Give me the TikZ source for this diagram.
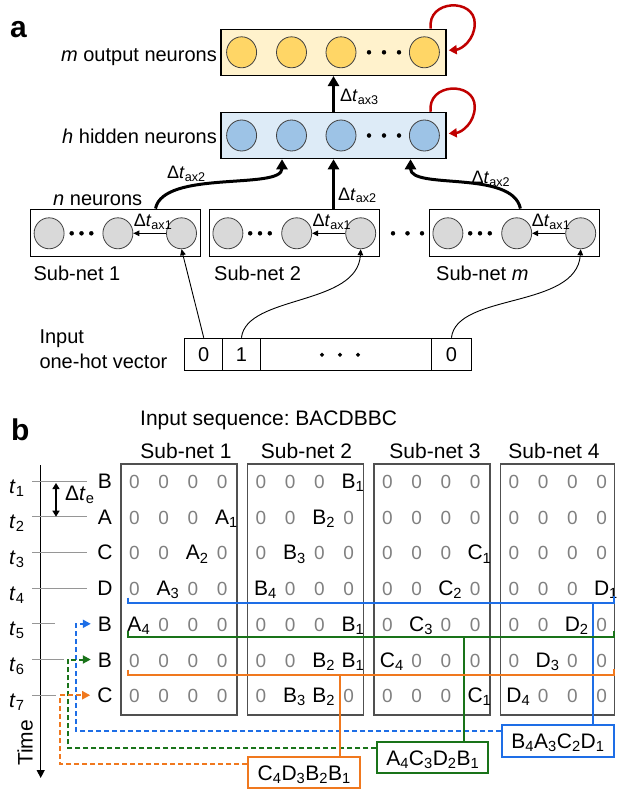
\documentclass[tikz,border=0pt]{standalone}
\usepackage{fontspec}
\setmainfont{Liberation Sans}
\usetikzlibrary{arrows.meta,shapes.geometric}

\definecolor{outfill}{RGB}{255,242,204}
\definecolor{outneuron}{RGB}{255,214,102}
\definecolor{hidfill}{RGB}{221,235,247}
\definecolor{hidneuron}{RGB}{157,195,230}
\definecolor{subneuron}{RGB}{217,217,217}
\definecolor{neuronline}{RGB}{64,64,64}
\definecolor{loopred}{RGB}{192,0,0}
\definecolor{seqblue}{RGB}{30,110,230}
\definecolor{seqgreen}{RGB}{25,115,25}
\definecolor{seqorange}{RGB}{240,120,30}
\definecolor{zerogray}{RGB}{128,128,128}
\definecolor{boxgray}{RGB}{80,80,80}
\definecolor{tickgray}{RGB}{150,150,150}

\newcommand{\zr}{{\fontsize{19}{19}\selectfont\color{zerogray}0}}
\newcommand{\lettr}[2]{#1\rlap{\textsubscript{#2}}}
% one row of a sub-net matrix: box, row, four entries
\newcommand{\matrow}[6]{%
  \node[mcell] (m#1r#2a) at ({134.5+126.5*(#1-1)},{481+35.7*(#2-1)}) {#3};
  \node[mcell] (m#1r#2b) at ({163.7+126.5*(#1-1)},{481+35.7*(#2-1)}) {#4};
  \node[mcell] (m#1r#2c) at ({192.9+126.5*(#1-1)},{481+35.7*(#2-1)}) {#5};
  \node[mcell] (m#1r#2d) at ({222.1+126.5*(#1-1)},{481+35.7*(#2-1)}) {#6};
}

\begin{document}
\begin{tikzpicture}[x=1pt,y=-1pt,
    lab/.style={font=\fontsize{20}{22}\selectfont, inner sep=0pt},
    dlab/.style={font=\fontsize{18}{20}\selectfont, inner sep=0pt},
    blab/.style={font=\fontsize{21}{23}\selectfont, inner sep=0pt},
    panel/.style={font=\fontsize{30}{30}\selectfont\bfseries, inner sep=0pt},
    layerbox/.style={draw=black, line width=1.5pt, minimum width=225pt, minimum height=46pt, inner sep=0pt},
    subbox/.style={draw=black, line width=1.3pt, minimum width=170pt, minimum height=47pt, inner sep=0pt},
    neuron/.style={ellipse, draw=neuronline, line width=0.8pt, minimum width=30pt, minimum height=31pt, inner sep=0pt},
    vcell/.style={draw=black, line width=1.2pt, minimum height=32.4pt, inner sep=0pt, font=\fontsize{20}{22}\selectfont},
    axon/.style={line width=3pt, -{Triangle[length=10pt,width=11pt]}},
    thinarr/.style={line width=0.9pt, -{Triangle[length=6pt,width=5.5pt]}},
    selfloop/.style={loopred, line width=2.5pt, -{Triangle[length=8pt,width=9pt]}},
    matbox/.style={draw=boxgray, line width=1.3pt},
    mcell/.style={font=\fontsize{21}{21}\selectfont, inner sep=0pt, text height=15pt, text depth=0pt},
    tline/.style={tickgray, line width=1pt},
    seqline/.style={line width=2pt},
    seqdash/.style={line width=2pt, dash pattern=on 5pt off 3pt, -{Triangle[length=8pt,width=8pt]}},
    seqbox/.style={draw, line width=2pt, minimum width=112pt, minimum height=32pt, inner sep=0pt,
      text=black, font=\fontsize{21}{21}\selectfont, text height=15pt, text depth=0pt}]
    \useasboundingbox (0,0) rectangle (616,789);

    % panel a
    \node[panel, anchor=base west] (pa) at (10,38) {a};

    \node[layerbox, fill=outfill] (outl) at (333.5,52.3) {};
    \node[neuron, fill=outneuron] (o1) at (241.6,52.3) {};
    \node[neuron, fill=outneuron] (o2) at (291.5,52.3) {};
    \node[neuron, fill=outneuron] (o3) at (341,52.3) {};
    \node[neuron, fill=outneuron] (o4) at (424.4,52.3) {};
    \filldraw (369,52.3) circle (2pt);
    \filldraw (384,52.3) circle (2pt);
    \filldraw (399,52.3) circle (2pt);
    \node[lab, anchor=base east] (outtxt) at (217,62) {\textit{m} output neurons};
    \draw[selfloop] (outl.north east) ++(-16,0) .. controls +(-4,-29) and +(0,-26) .. ++(44,-5)
        .. controls +(0,16) and +(13,-1) .. ([xshift=2pt,yshift=2pt]outl.east);

    \node[layerbox, fill=hidfill] (hidl) at (333.5,135.5) {};
    \node[neuron, fill=hidneuron] (h1) at (241.6,135.5) {};
    \node[neuron, fill=hidneuron] (h2) at (291.5,135.5) {};
    \node[neuron, fill=hidneuron] (h3) at (341,135.5) {};
    \node[neuron, fill=hidneuron] (h4) at (424.4,135.5) {};
    \filldraw (369,135.5) circle (2pt);
    \filldraw (384,135.5) circle (2pt);
    \filldraw (399,135.5) circle (2pt);
    \node[lab, anchor=base east] (hidtxt) at (217,143) {\textit{h} hidden neurons};
    \draw[selfloop] (hidl.north east) ++(-16,0) .. controls +(-4,-29) and +(0,-26) .. ++(44,-5)
        .. controls +(0,16) and +(13,-1) .. ([xshift=2pt,yshift=2pt]hidl.east);

    \draw[axon] (hidl.north) -- (outl.south);
    \node[dlab, anchor=base west] (tax3) at (340,101.7) {Δ\textit{t}\textsubscript{ax3}};

    % sub-nets
    \node[subbox] (sub1) at (115.5,232.7) {};
    \node[subbox] (sub2) at (294.3,232.7) {};
    \node[subbox] (sub3) at (514.4,232.7) {};
    \node[neuron, fill=subneuron] (s1a) at (49.1,233.3) {};
    \node[neuron, fill=subneuron] (s1b) at (117.9,233.3) {};
    \node[neuron, fill=subneuron] (s1c) at (181.5,233.3) {};
    \node[neuron, fill=subneuron] (s2a) at (227.9,233.3) {};
    \node[neuron, fill=subneuron] (s2b) at (296.7,233.3) {};
    \node[neuron, fill=subneuron] (s2c) at (360.7,233.3) {};
    \node[neuron, fill=subneuron] (s3a) at (447.9,233.3) {};
    \node[neuron, fill=subneuron] (s3b) at (516.7,233.3) {};
    \node[neuron, fill=subneuron] (s3c) at (580.7,233.3) {};
    \filldraw (71.7,233.3) circle (2pt);
    \filldraw (81.5,233.3) circle (2pt);
    \filldraw (91.3,233.3) circle (2pt);
    \filldraw (250.2,233.3) circle (2pt);
    \filldraw (260,233.3) circle (2pt);
    \filldraw (269.8,233.3) circle (2pt);
    \filldraw (470.2,233.3) circle (2pt);
    \filldraw (480,233.3) circle (2pt);
    \filldraw (489.8,233.3) circle (2pt);
    \filldraw (393,233.3) circle (2pt);
    \filldraw (407.5,233.3) circle (2pt);
    \filldraw (422,233.3) circle (2pt);
    \draw[thinarr] (s1c) -- (s1b);
    \draw[thinarr] (s2c) -- (s2b);
    \draw[thinarr] (s3c) -- (s3b);
    \node[dlab, anchor=base west] (tax1a) at (133.6,226.7) {Δ\textit{t}\textsubscript{ax1}};
    \node[dlab, anchor=base west] (tax1b) at (312.4,226.7) {Δ\textit{t}\textsubscript{ax1}};
    \node[dlab, anchor=base west] (tax1c) at (531.6,226.7) {Δ\textit{t}\textsubscript{ax1}};
    \node[lab, anchor=base west] (ntxt) at (53,205) {\textit{n} neurons};
    \node[lab, anchor=base west] (sub1txt) at (33.4,280) {Sub-net 1};
    \node[lab, anchor=base west] (sub2txt) at (214,280) {Sub-net 2};
    \node[lab, anchor=base west] (sub3txt) at (436,280) {Sub-net \textit{m}};

    \draw[axon] ([xshift=40pt]sub1.north) .. controls +(8,-39) and +(0,31) .. ([xshift=-51.5pt]hidl.south);
    \draw[axon] (hidl.south |- sub2.north) -- (hidl.south);
    \draw[axon] ([xshift=6pt]sub3.north) .. controls +(-8,-39) and +(0,31) .. ([xshift=77pt]hidl.south);
    \node[dlab, anchor=base west] (tax2a) at (167,178.3) {Δ\textit{t}\textsubscript{ax2}};
    \node[dlab, anchor=base west] (tax2b) at (338,200) {Δ\textit{t}\textsubscript{ax2}};
    \node[dlab, anchor=base west] (tax2c) at (471.5,183.3) {Δ\textit{t}\textsubscript{ax2}};

    % one-hot input
    \node[vcell, minimum width=38.1pt] (in0) at (203.75,354.5) {0};
    \node[vcell, minimum width=37.3pt] (in1) at (241.45,354.5) {1};
    \node[vcell, minimum width=171.3pt] (indots) at (345.75,354.5) {};
    \node[vcell, minimum width=40.1pt] (inm) at (451.45,354.5) {0};
    \filldraw (322,354.7) circle (1.9pt);
    \filldraw (340,354.7) circle (1.9pt);
    \filldraw (358,354.7) circle (1.9pt);
    \node[lab, anchor=base west] (intxt) at (39.3,343.3) {Input};
    \node[lab, anchor=base west] (ohtxt) at (39.3,368.3) {one-hot vector};
    \draw[thinarr] (in0.north) -- (s1c.south);
    \draw[thinarr] (in1.north) .. controls +(5,-43) and +(-3,57) .. (s2c.south);
    \draw[thinarr] (inm.north) .. controls +(5,-45) and +(-4,60) .. (s3c.south);

    % panel b
    \node[panel, anchor=base west] (pb) at (11,440) {b};
    \node[blab, anchor=base west] (seqtxt) at (140,425) {Input sequence:\ BACDBBC};
    \node[blab, anchor=base] (m1txt) at (186,458.3) {Sub-net 1};
    \node[blab, anchor=base] (m2txt) at (306.5,458.3) {Sub-net 2};
    \node[blab, anchor=base] (m3txt) at (435,458.3) {Sub-net 3};
    \node[blab, anchor=base] (m4txt) at (554,458.3) {Sub-net 4};

    \draw[matbox] (121,464) rectangle (237,715);
    \draw[matbox] (247.5,464) rectangle (363.5,715);
    \draw[matbox] (374,464) rectangle (490,715);
    \draw[matbox] (500.5,464) rectangle (614.8,715);

    % time axis
    \draw[line width=1.3pt, -{Triangle[length=8pt,width=8pt]}] (40.7,465) -- (40.7,778);
    \node[blab, rotate=90] (timetxt) at (25,743) {Time};
    \draw[tline] (32,481) -- (87,481);
    \draw[tline] (32,516.7) -- (87,516.7);
    \draw[tline] (32,552.4) -- (87,552.4);
    \draw[tline] (32,588.1) -- (87,588.1);
    \draw[tline] (32,623.8) -- (55,623.8);
    \draw[tline] (32,659.5) -- (64,659.5);
    \draw[tline] (32,695.2) -- (56,695.2);
    \node[blab, anchor=base west] (t1) at (9,493) {\textit{t}\textsubscript{1}};
    \node[blab, anchor=base west] (t2) at (9,528.7) {\textit{t}\textsubscript{2}};
    \node[blab, anchor=base west] (t3) at (9,564.4) {\textit{t}\textsubscript{3}};
    \node[blab, anchor=base west] (t4) at (9,600.1) {\textit{t}\textsubscript{4}};
    \node[blab, anchor=base west] (t5) at (9,635.8) {\textit{t}\textsubscript{5}};
    \node[blab, anchor=base west] (t6) at (9,671.5) {\textit{t}\textsubscript{6}};
    \node[blab, anchor=base west] (t7) at (9,707.2) {\textit{t}\textsubscript{7}};
    \draw[line width=1.3pt, {Triangle[length=6pt,width=7pt]}-{Triangle[length=6pt,width=7pt]}] (56,483) -- (56,516.7);
    \node[blab, anchor=base west] (dte) at (65,500) {Δ\textit{t}\textsubscript{e}};

    % input letters
    \node[mcell] (rl1) at (105,481) {B};
    \node[mcell] (rl2) at (105,516.7) {A};
    \node[mcell] (rl3) at (105,552.4) {C};
    \node[mcell] (rl4) at (105,588.1) {D};
    \node[mcell] (rl5) at (105,623.8) {B};
    \node[mcell] (rl6) at (105,659.5) {B};
    \node[mcell] (rl7) at (105,695.2) {C};

    % sub-net 1
    \matrow{1}{1}{\zr}{\zr}{\zr}{\zr}
    \matrow{1}{2}{\zr}{\zr}{\zr}{\lettr{A}{1}}
    \matrow{1}{3}{\zr}{\zr}{\lettr{A}{2}}{\zr}
    \matrow{1}{4}{\zr}{\lettr{A}{3}}{\zr}{\zr}
    \matrow{1}{5}{\lettr{A}{4}}{\zr}{\zr}{\zr}
    \matrow{1}{6}{\zr}{\zr}{\zr}{\zr}
    \matrow{1}{7}{\zr}{\zr}{\zr}{\zr}
    % sub-net 2
    \matrow{2}{1}{\zr}{\zr}{\zr}{\lettr{B}{1}}
    \matrow{2}{2}{\zr}{\zr}{\lettr{B}{2}}{\zr}
    \matrow{2}{3}{\zr}{\lettr{B}{3}}{\zr}{\zr}
    \matrow{2}{4}{\lettr{B}{4}}{\zr}{\zr}{\zr}
    \matrow{2}{5}{\zr}{\zr}{\zr}{\lettr{B}{1}}
    \matrow{2}{6}{\zr}{\zr}{\lettr{B}{2}}{\lettr{B}{1}}
    \matrow{2}{7}{\zr}{\lettr{B}{3}}{\lettr{B}{2}}{\zr}
    % sub-net 3
    \matrow{3}{1}{\zr}{\zr}{\zr}{\zr}
    \matrow{3}{2}{\zr}{\zr}{\zr}{\zr}
    \matrow{3}{3}{\zr}{\zr}{\zr}{\lettr{C}{1}}
    \matrow{3}{4}{\zr}{\zr}{\lettr{C}{2}}{\zr}
    \matrow{3}{5}{\zr}{\lettr{C}{3}}{\zr}{\zr}
    \matrow{3}{6}{\lettr{C}{4}}{\zr}{\zr}{\zr}
    \matrow{3}{7}{\zr}{\zr}{\zr}{\lettr{C}{1}}
    % sub-net 4
    \matrow{4}{1}{\zr}{\zr}{\zr}{\zr}
    \matrow{4}{2}{\zr}{\zr}{\zr}{\zr}
    \matrow{4}{3}{\zr}{\zr}{\zr}{\zr}
    \matrow{4}{4}{\zr}{\zr}{\zr}{\lettr{D}{1}}
    \matrow{4}{5}{\zr}{\zr}{\lettr{D}{2}}{\zr}
    \matrow{4}{6}{\zr}{\lettr{D}{3}}{\zr}{\zr}
    \matrow{4}{7}{\lettr{D}{4}}{\zr}{\zr}{\zr}

    % read-out brackets
    \node[seqbox, draw=seqblue] (bluebox) at (558,741) {B\textsubscript{4}A\textsubscript{3}C\textsubscript{2}D\textsubscript{1}};
    \node[seqbox, draw=seqgreen, minimum width=111pt, minimum height=31pt] (greenbox) at (432.8,757.5) {A\textsubscript{4}C\textsubscript{3}D\textsubscript{2}B\textsubscript{1}};
    \node[seqbox, draw=seqorange, minimum height=31pt] (orangebox) at (304.2,772.8) {C\textsubscript{4}D\textsubscript{3}B\textsubscript{2}B\textsubscript{1}};

    \draw[seqline, seqblue] (128.3,597.5) |- (613.5,603.3) -- (613.5,596);
    \coordinate (bluetap) at (593.3,603.3);
    \draw[seqline, seqblue] (bluetap) -- (bluetap |- bluebox.north);
    \draw[seqdash, seqblue] ([yshift=-6.5pt]bluebox.north west) -| (76,623.8) -- ([xshift=-7pt]rl5.west);

    \draw[seqline, seqgreen] (128.3,631) |- (613.5,637.3) -- (613.5,631);
    \coordinate (greentap) at (464,637.3);
    \draw[seqline, seqgreen] (greentap) -- (greentap |- greenbox.north);
    \draw[seqdash, seqgreen] ([yshift=-7pt]greenbox.north west) -| (68,659.5) -- ([xshift=-7pt]rl6.west);

    \draw[seqline, seqorange] (128.3,669.5) |- (613.5,675) -- (613.5,669);
    \coordinate (orangetap) at (340,675);
    \draw[seqline, seqorange] (orangetap) -- (orangetap |- orangebox.north);
    \draw[seqdash, seqorange] ([yshift=-7.5pt]orangebox.north west) -| (60,695.2) -- ([xshift=-7pt]rl7.west);
\end{tikzpicture}
\end{document}
